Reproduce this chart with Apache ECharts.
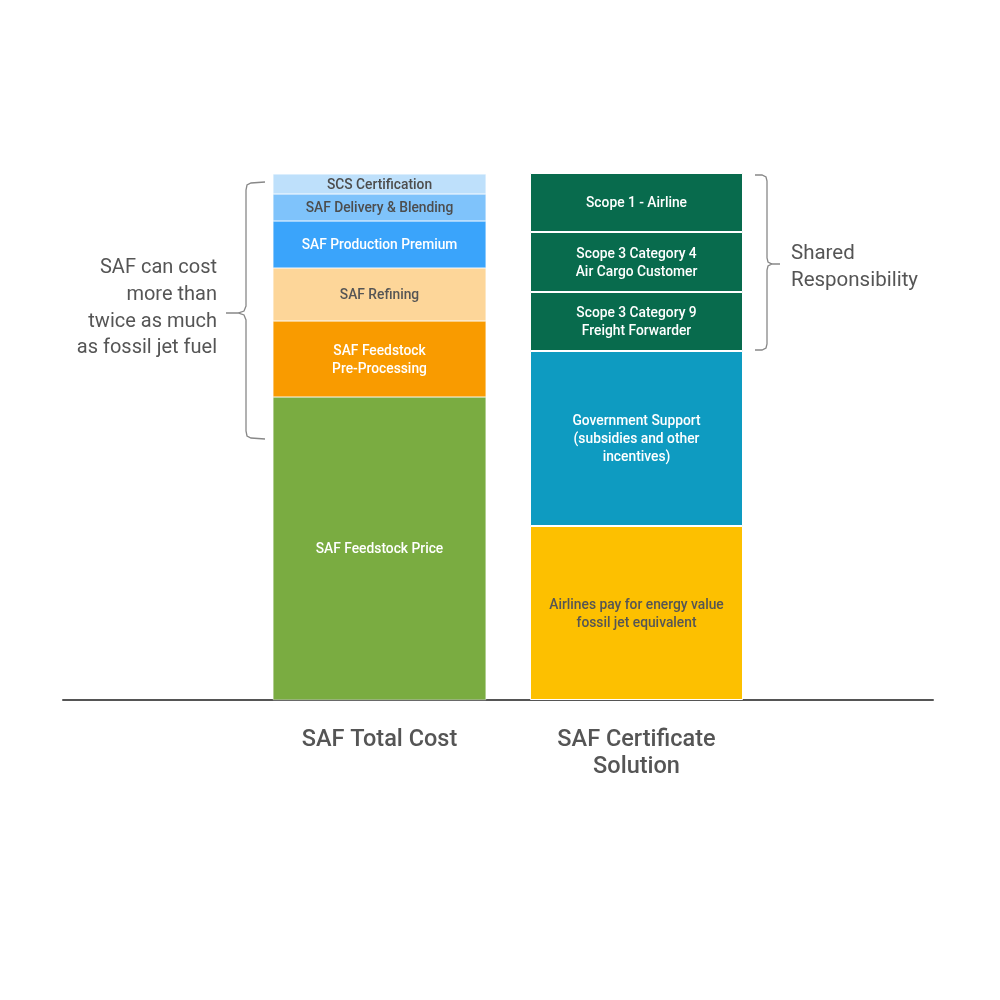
<!DOCTYPE html>
<html>
<head>
<meta charset="utf-8">
<script src="https://cdn.jsdelivr.net/npm/echarts@6/dist/echarts.min.js"></script>
<style>
  html, body { margin: 0; padding: 0; background: #fff; }
  #main { width: 1000px; height: 1000px; }
</style>
</head>
<body>
<div id="main"></div>
<script>
// categories on the x axis
const columns = ['SAF Total Cost', 'SAF Certificate\nSolution'];

// left column, bottom to top
const costNames = ['SAF Feedstock Price', 'SAF Feedstock\nPre-Processing', 'SAF Refining',
  'SAF Production Premium', 'SAF Delivery & Blending', 'SCS Certification'];
const costValues = [303, 76, 53, 47, 27, 20];
const costColors = ['#7aac41', '#f99b00', '#fdd699', '#3aa4fb', '#7fc3fb', '#bee0fb'];
const costText = ['#fff', '#fff', '#555', '#fff', '#4d4d4d', '#4d4d4d'];

// right column, bottom to top
const solNames = ['Airlines pay for energy value\nfossil jet equivalent',
  'Government Support\n(subsidies and other\nincentives)',
  'Scope 3 Category 9\nFreight Forwarder', 'Scope 3 Category 4\nAir Cargo Customer', 'Scope 1 - Airline'];
const solValues = [174, 175, 59, 60, 59];
const solColors = ['#fdc000', '#0e9bc1', '#086b4d', '#086b4d', '#086b4d'];
const solText = ['#555', '#fff', '#fff', '#fff', '#fff'];

const FONT = 'Roboto';
const chart = echarts.init(document.getElementById('main'));

function seg(name, value, col, color, textColor) {
  const data = col === 0 ? [value, '-'] : ['-', value];
  return {
    name: name,
    type: 'bar',
    stack: 'total',
    barWidth: 213,
    data: data,
    itemStyle: { color: color, borderColor: '#fff', borderWidth: col === 0 ? 0.4 : 1 },
    label: {
      show: true, position: 'inside', formatter: name, offset: [0, 1.5],
      color: textColor, fontFamily: FONT, fontSize: 13.8, fontWeight: 500, lineHeight: 18
    },
    emphasis: { disabled: true },
    silent: true
  };
}

const series = [];
costNames.forEach((n, i) => series.push(seg(n, costValues[i], 0, costColors[i], costText[i])));
solNames.forEach((n, i) => series.push(seg(n, solValues[i], 1, solColors[i], solText[i])));

const braceStyle = { stroke: '#888', lineWidth: 1.3, fill: null };

let option;
option = {
  backgroundColor: '#fff',
  animation: false,
  grid: [
    { left: 251, right: 235, top: 173, bottom: 300 },
    { left: 63, right: 67, top: 173, bottom: 300 }
  ],
  xAxis: [
    {
      type: 'category', data: columns, gridIndex: 0,
      axisLine: { show: false }, axisTick: { show: false },
      axisLabel: { color: '#555', fontFamily: FONT, fontSize: 23.5, fontWeight: 500, lineHeight: 27, margin: 27 }
    },
    {
      type: 'value', gridIndex: 1, min: 0, max: 1,
      axisLine: { show: true, onZero: false, lineStyle: { color: '#555', width: 2 } },
      axisTick: { show: false }, axisLabel: { show: false }, splitLine: { show: false }
    }
  ],
  yAxis: [
    { type: 'value', gridIndex: 0, min: 0, max: 527, show: false },
    { type: 'value', gridIndex: 1, min: 0, max: 1, show: false }
  ],
  series: series,
  graphic: [
    {
      type: 'polyline',
      shape: { points: [[265, 182], [251, 183], [247, 185], [246, 190], [246, 306], [244, 311], [238, 313], [226, 313],
        [238, 313], [244, 315], [246, 320], [246, 431], [247, 436], [251, 438], [265, 439]] },
      style: braceStyle
    },
    {
      type: 'polyline',
      shape: { points: [[755, 175], [762, 175], [766, 177], [767, 181], [767, 258], [768, 262], [772, 264], [780, 264],
        [772, 264], [768, 266], [767, 270], [767, 344], [766, 348], [762, 350], [755, 350]] },
      style: braceStyle
    },
    {
      type: 'text', x: 217, y: 255,
      style: {
        text: 'SAF can cost\nmore than\ntwice as much\nas fossil jet fuel',
        fill: '#555', font: '20px ' + FONT, lineHeight: 26.7, align: 'right', verticalAlign: 'top'
      }
    },
    {
      type: 'text', x: 791, y: 240,
      style: {
        text: 'Shared\nResponsibility',
        fill: '#555', font: '20.5px ' + FONT, lineHeight: 27, verticalAlign: 'top'
      }
    }
  ]
};
chart.setOption(option);
</script>
</body>
</html>
